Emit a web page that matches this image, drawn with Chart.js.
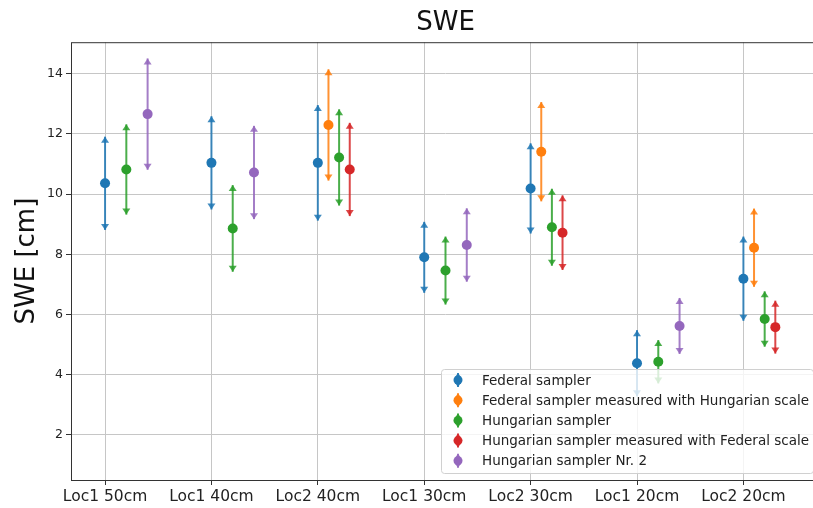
<!DOCTYPE html>
<html>
<head>
<meta charset="utf-8">
<script src="https://cdn.jsdelivr.net/npm/chart.js@4.4.0/dist/chart.umd.min.js"></script>
<style>
  html, body { margin: 0; padding: 0; background: #fff; overflow: hidden; }
</style>
</head>
<body>
<!-- the axes run a little past the right edge of the window, as in the cropped original -->
<canvas id="chart" width="825" height="508"></canvas>
<script>
const categories = ['Loc1 50cm', 'Loc1 40cm', 'Loc2 40cm', 'Loc1 30cm', 'Loc2 30cm', 'Loc1 20cm', 'Loc2 20cm'];
const yTicks = [2, 4, 6, 8, 10, 12, 14];

// mean SWE and error half-width per location (null = not measured)
const federal     = [10.36, 11.04, 11.04, 7.90, 10.19, 4.38, 7.19];
const federalErr  = [1.55, 1.55, 1.92, 1.18, 1.50, 1.10, 1.40];
const fedHun      = [null, null, 12.30, null, 11.41, null, 8.22];
const fedHunErr   = [null, null, 1.85, null, 1.65, null, 1.30];
const hungarian    = [10.82, 8.86, 11.22, 7.46, 8.90, 4.43, 5.85];
const hungarianErr = [1.50, 1.44, 1.60, 1.13, 1.28, 0.72, 0.92];
const hunFed      = [null, null, 10.82, null, 8.72, null, 5.58];
const hunFedErr   = [null, null, 1.55, null, 1.24, null, 0.88];
const hun2        = [12.66, 10.72, null, 8.31, null, 5.62, null];
const hun2Err     = [1.85, 1.55, null, 1.22, null, 0.93, null];

const FONT = "'DejaVu Sans', sans-serif";

function points(vals, errs, off){
  return vals.map((v, i) => v == null ? null : { x: i + off, y: v, err: errs[i] }).filter(Boolean);
}

function makeSet(label, vals, errs, off, color){
  return {
    label, data: points(vals, errs, off),
    backgroundColor: color, borderColor: color,
    pointRadius: 5, pointBorderWidth: 0, pointHoverRadius: 5
  };
}

function drawBar(ctx, px, top, bot, aw, ah){
  ctx.beginPath();
  ctx.moveTo(px, top); ctx.lineTo(px, bot);
  ctx.stroke();
  ctx.beginPath();
  ctx.moveTo(px, top); ctx.lineTo(px - aw, top + ah); ctx.lineTo(px + aw, top + ah); ctx.closePath();
  ctx.fill();
  ctx.beginPath();
  ctx.moveTo(px, bot); ctx.lineTo(px - aw, bot - ah); ctx.lineTo(px + aw, bot - ah); ctx.closePath();
  ctx.fill();
}

const errorBars = {
  id: 'errorBars',
  beforeDatasetsDraw(chart){
    const { ctx, scales: { x, y } } = chart;
    chart.data.datasets.forEach(ds => {
      ctx.save();
      ctx.strokeStyle = ds.borderColor; ctx.fillStyle = ds.borderColor;
      ctx.lineWidth = 2; ctx.globalAlpha = 0.85;
      ds.data.forEach(p => {
        const px = x.getPixelForValue(p.x);
        drawBar(ctx, px, y.getPixelForValue(p.y + p.err), y.getPixelForValue(p.y - p.err), 4, 6);
      });
      ctx.restore();
    });
  }
};

const frameAndLegend = {
  id: 'frameAndLegend',
  afterDraw(chart){
    const { ctx, chartArea: a } = chart;
    ctx.save();
    ctx.strokeStyle = '#333'; ctx.lineWidth = 1;
    ctx.strokeRect(a.left + 0.5, a.top + 0.5, a.right - a.left - 1, a.bottom - a.top);

    // legend box, lower right inside the axes
    const bx = a.right - 379, by = a.bottom - 111, bw = 372, bh = 104;
    ctx.fillStyle = 'rgba(255,255,255,0.8)';
    ctx.strokeStyle = '#d0d0d0';
    ctx.beginPath();
    ctx.roundRect(bx + 0.5, by + 0.5, bw, bh, 3);
    ctx.fill(); ctx.stroke();

    ctx.font = '13.5px ' + FONT;
    ctx.textBaseline = 'middle';
    chart.data.datasets.forEach((ds, i) => {
      const cy = by + 11 + i * 20.2, mx = bx + 17;
      ctx.strokeStyle = ds.borderColor; ctx.fillStyle = ds.borderColor;
      ctx.lineWidth = 2; ctx.globalAlpha = 0.85;
      drawBar(ctx, mx, cy - 7, cy + 7, 3, 4);
      ctx.globalAlpha = 1;
      ctx.beginPath(); ctx.arc(mx, cy, 4.5, 0, Math.PI * 2); ctx.fill();
      ctx.fillStyle = '#222';
      ctx.fillText(ds.label, bx + 41, cy + 1);
    });
    ctx.restore();
  }
};

new Chart(document.getElementById('chart'), {
  type: 'scatter',
  data: {
    datasets: [
      makeSet('Federal sampler', federal, federalErr, 0, '#1f77b4'),
      makeSet('Federal sampler measured with Hungarian scale', fedHun, fedHunErr, 0.1, '#ff7f0e'),
      makeSet('Hungarian sampler', hungarian, hungarianErr, 0.2, '#2ca02c'),
      makeSet('Hungarian sampler measured with Federal scale', hunFed, hunFedErr, 0.3, '#d62728'),
      makeSet('Hungarian sampler Nr. 2', hun2, hun2Err, 0.4, '#9467bd')
    ]
  },
  options: {
    responsive: false,
    animation: false,
    layout: { padding: { left: 0, right: 3, top: 0, bottom: 0 } },
    plugins: {
      legend: { display: false },
      tooltip: { enabled: false },
      title: {
        display: true, text: 'SWE', color: '#111', fullSize: false,
        font: { family: FONT, size: 26, weight: 'normal' },
        padding: { top: 8, bottom: 3 }
      }
    },
    scales: {
      x: {
        type: 'linear', min: -0.32, max: 6.72,
        afterBuildTicks: s => { s.ticks = categories.map((c, i) => ({ value: i })); },
        afterFit: s => { s.height = 28; s.paddingLeft = 0; s.paddingRight = 0; },
        ticks: {
          callback: v => categories[v], color: '#222', padding: 3, maxRotation: 0, autoSkip: false,
          font: { family: FONT, size: 15.5 }
        },
        grid: { color: '#c6c6c6', lineWidth: 1, tickLength: 5, tickColor: '#333' },
        border: { display: false }
      },
      y: {
        min: 0.5, max: 15.05,
        afterBuildTicks: s => { s.ticks = yTicks.map(v => ({ value: v })); },
        afterFit: s => { s.width = 71; },
        ticks: { color: '#222', padding: 3, font: { family: FONT, size: 12.5 } },
        grid: { color: '#c6c6c6', lineWidth: 1, tickLength: 5, tickColor: '#333' },
        border: { display: false },
        title: {
          display: true, text: 'SWE [cm]', color: '#111',
          font: { family: FONT, size: 26 }, padding: { top: 12, bottom: 0 }
        }
      }
    }
  },
  plugins: [errorBars, frameAndLegend]
});
</script>
</body>
</html>
